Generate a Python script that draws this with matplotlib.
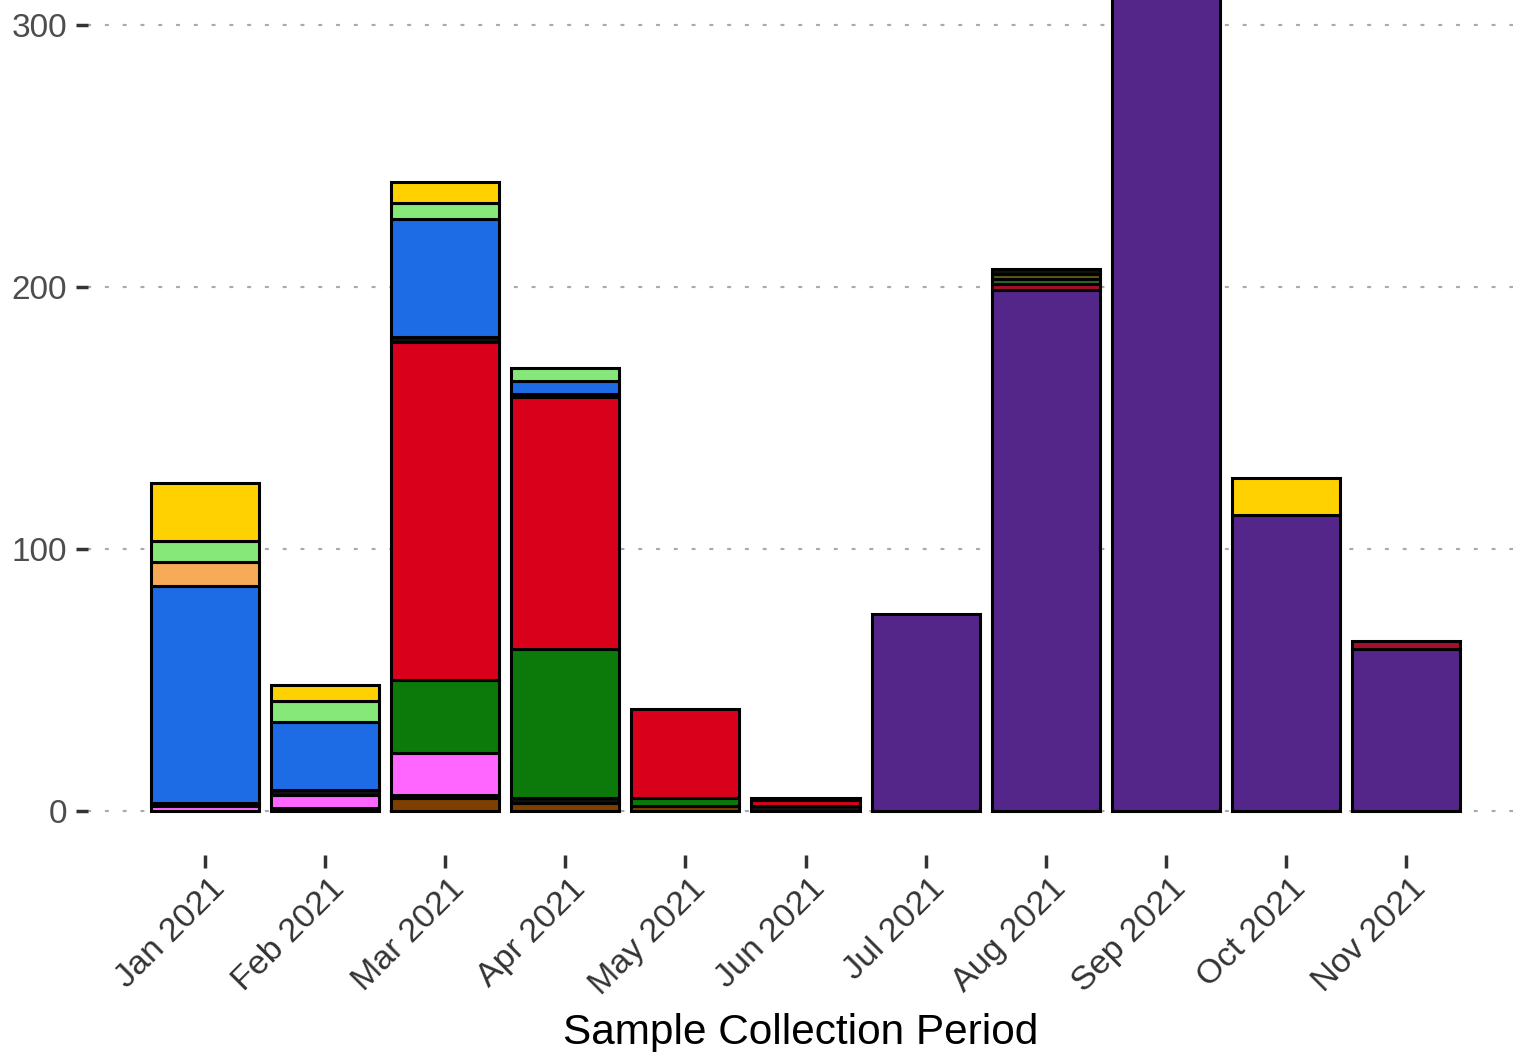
import matplotlib
matplotlib.use("Agg")
import matplotlib.pyplot as plt
import matplotlib.transforms as mtransforms
import numpy as np

plt.rcParams['font.family'] = ['Liberation Sans', 'DejaVu Sans']

months = ["Jan 2021", "Feb 2021", "Mar 2021", "Apr 2021", "May 2021", "Jun 2021",
          "Jul 2021", "Aug 2021", "Sep 2021", "Oct 2021", "Nov 2021"]

# stacking order bottom -> top
groups = ["purple", "crimson", "green2", "olive", "brown", "blackX", "pink",
          "dkgreen", "red", "blackY", "blue", "orange", "lgreen", "yellow"]
colors = {
    "purple": "#55268A", "crimson": "#A50F2A", "green2": "#2A6A2A", "olive": "#5C5A12",
    "brown": "#7F3F00", "blackX": "#111111", "pink": "#FF66FF", "dkgreen": "#0B7A0B",
    "red": "#D9001B", "blackY": "#111111", "blue": "#1E6BE6", "orange": "#F7AA58",
    "lgreen": "#85E878", "yellow": "#FFD100",
}

#            Jan Feb Mar Apr May Jun Jul  Aug  Sep  Oct Nov
purple   = [0,   0,   0,   0,  0,  0, 75, 199, 336, 113, 62]
crimson  = [0,   0,   0,   0,  0,  0,  0,   2,   0,   0,  3]
green2   = [0,   0,   0,   0,  0,  0,  0,   2,   0,   0,  0]
olive    = [0,   0,   0,   0,  0,  0,  0,   2,   0,   0,  0]
brown    = [0,   1,   5,   3,  2,  0,  0,   0,   0,   0,  0]
blackX   = [0,   0,   1,   2,  0,  2,  0,   2,   0,   0,  0]
pink     = [2,   5,  16,   0,  0,  0,  0,   0,   0,   0,  0]
dkgreen  = [0,   0,  28,  57,  3,  0,  0,   0,   0,   0,  0]
red      = [0,   0, 129,  96, 34,  2,  0,   0,   0,   0,  0]
blackY   = [1,   2,   2,   1,  0,  1,  0,   0,   0,   0,  0]
blue     = [83, 26,  45,   5,  0,  0,  0,   0,   0,   0,  0]
orange   = [9,   0,   0,   0,  0,  0,  0,   0,   0,   0,  0]
lgreen   = [8,   8,   6,   5,  0,  0,  0,   0,   0,   0,  0]
yellow   = [22,  6,   8,   0,  0,  0,  0,   0,   0,  14,  0]

values = {"purple": purple, "crimson": crimson, "green2": green2, "olive": olive,
          "brown": brown, "blackX": blackX, "pink": pink, "dkgreen": dkgreen,
          "red": red, "blackY": blackY, "blue": blue, "orange": orange,
          "lgreen": lgreen, "yellow": yellow}

fig = plt.figure(figsize=(15.13, 10.52), dpi=100)
ax = fig.add_axes([88 / 1513, (1052 - 855) / 1052, 1 - 88 / 1513, 855 / 1052])

x = np.arange(len(months))
bottom = np.zeros(len(months))
for g in groups:
    v = np.array(values[g], dtype=float)
    mask = v > 0
    ax.bar(x[mask], v[mask], bottom=bottom[mask], width=0.9, color=colors[g],
           edgecolor="black", linewidth=2.2, zorder=3)
    bottom += v

ax.set_xlim(-0.974, 10.89)
ax.set_ylim(-16.8, 309.5)
ax.set_yticks([0, 100, 200, 300])
ax.set_xticks(x)
ax.set_xticklabels(months, rotation=45, ha="right", va="top", rotation_mode="anchor")

for s in ax.spines.values():
    s.set_visible(False)

ax.yaxis.grid(True, color="#AAAAAA", linestyle=(0, (1, 7)), linewidth=1.6,
              dash_capstyle="round", zorder=0)
ax.xaxis.grid(False)

ax.tick_params(axis="y", labelsize=24, labelcolor="#4D4D4D", length=9, width=2.5,
               color="#333333", pad=6)
ax.tick_params(axis="x", labelsize=24.5, labelcolor="#333333", length=9, width=2.5,
               color="#333333", pad=4)

offset = mtransforms.ScaledTranslation(4 / 100, 0, fig.dpi_scale_trans)
for lbl in ax.get_xticklabels():
    lbl.set_transform(lbl.get_transform() + offset)

ax.set_xlabel("Sample Collection Period", fontsize=30.5, color="black", labelpad=9)

fig.savefig("out.png", dpi=100, facecolor="white")
